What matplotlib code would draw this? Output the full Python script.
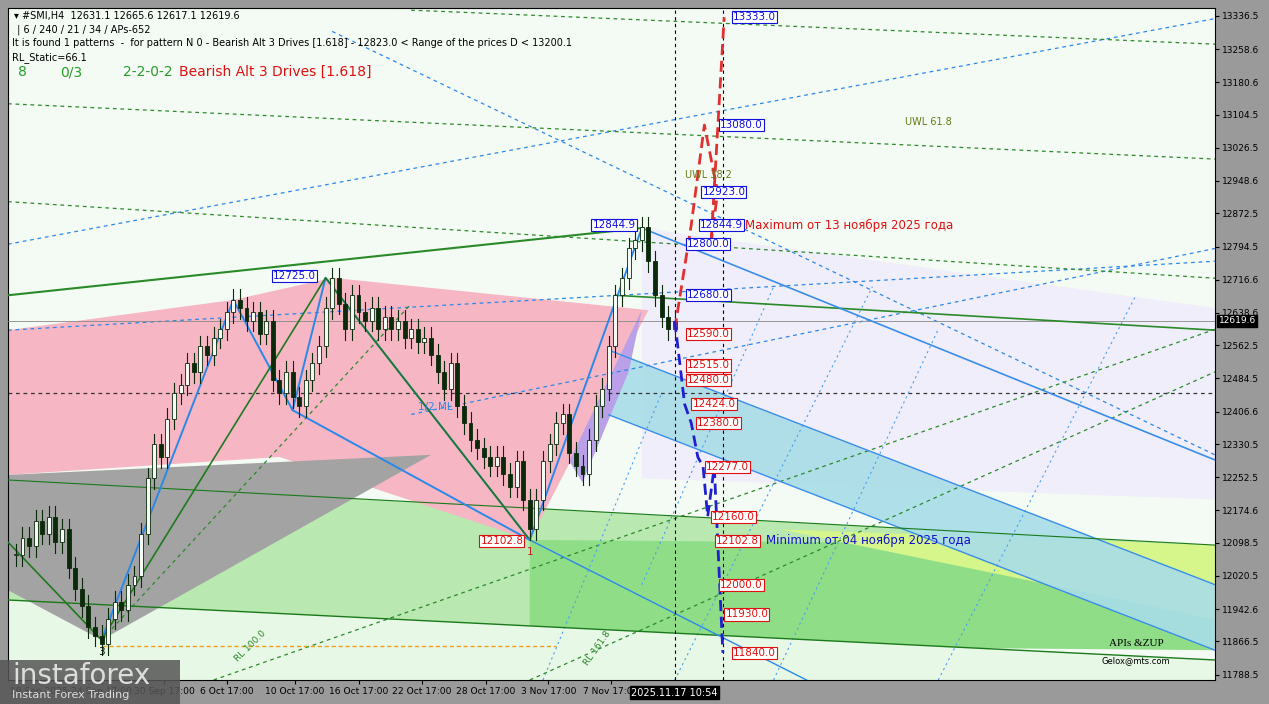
import matplotlib
matplotlib.use("Agg")
import matplotlib.pyplot as plt
from matplotlib.patches import Polygon, Rectangle
import numpy as np

closes = [12070,12110,12090,12150,12120,12160,12100,12130,12040,
          11990,11950,11900,11880,11860,
          11920,11960,11940,12000,12020,
          12120,12250,12330,12300,12390,
          12450,12470,12520,12500,12560,
          12540,12580,12600,12640,12670,
          12650,12620,12640,12590,12620,
          12480,12450,12500,12440,12420,
          12480,12520,12560,12650,12720,
          12660,12600,12680,12640,12620,
          12650,12600,12630,12600,12620,
          12580,12600,12570,12580,12540,
          12500,12460,12520,12420,12380,
          12340,12320,12300,12280,12300,
          12260,12230,12290,12200,12130,
          12200,12290,12330,12380,12400,
          12310,12280,12260,12340,12420,
          12460,12560,12680,12720,12790,
          12810,12840,12760,12680,12630,
          12600,12619.6]

yticks = [13336.5,13258.6,13180.6,13104.5,13026.5,12948.6,12872.5,12794.5,12716.6,12638.6,
          12562.5,12484.5,12406.6,12330.5,12252.5,12174.6,12098.5,12020.5,11942.6,11866.5,11788.5]
xtick_pos = [3.5, 13, 22.5, 32, 42.3, 52.1, 61.6, 71.3, 80.8, 90.3]
xtick_lab = ["19 Sep 2025", "24 Sep 17:00", "30 Sep 17:00", "6 Oct 17:00", "10 Oct 17:00",
             "16 Oct 17:00", "22 Oct 17:00", "28 Oct 17:00", "3 Nov 17:00", "7 Nov 17:00"]

blue_levels = [13333.0, 13080.0, 12923.0, 12844.9, 12800.0, 12680.0]
blue_level_x = [108.8, 106.9, 104.2, 103.8, 101.8, 101.8]
red_levels = [12590.0, 12515.0, 12480.0, 12424.0, 12380.0, 12277.0, 12160.0, 12102.8, 12000.0, 11930.0, 11840.0]
red_level_x = [101.8, 101.8, 101.8, 102.7, 103.4, 104.7, 105.7, 106.2, 106.9, 107.7, 108.8]

red_path_x = [100, 102.5, 104.5, 106.5, 105.5, 107.5]
red_path_y = [12600, 12844.9, 13080, 12923, 12800, 13333]
blue_path_x = [100, 101.5, 102.5, 103.5, 104.3, 105, 106, 107.3]
blue_path_y = [12620, 12424, 12380, 12300, 12277, 12160, 12277, 11840]

fig = plt.figure(figsize=(12.69, 7.04), dpi=100)
fig.patch.set_facecolor("#9a9a9a")
ax = fig.add_axes([8/1269, 24/704, 1207/1269, 672/704])
ax.set_facecolor("#f4fbf4")
ax.set_xlim(-1.2, 182)
ax.set_ylim(11776, 13355)

def poly(pts, color, alpha=1.0, z=1):
    ax.add_patch(Polygon(pts, closed=True, facecolor=color, edgecolor="none", alpha=alpha, zorder=z))

poly([(95, 12838), (182, 12650), (182, 12200), (95, 12250)], "#f0eefa", 1, 0.5)
poly([(-1.2, 12246), (182, 12093), (182, 11846), (-1.2, 11928)], "#b9e8b0", 1, 1)
poly([(78, 12105), (182, 12093), (182, 11846), (78, 11860)], "#90dd88", 1, 1.1)
poly([(-1.2, 11964), (182, 11823), (182, 11776), (-1.2, 11776)], "#e8f8e6", 1, 1.2)
poly([(116, 12130), (182, 12093), (182, 11917), (160, 11990)], "#d6f58a", 1, 1.3)
poly([(90, 12551), (182, 12000), (182, 11846), (90, 12399)], "#a8dde8", 0.9, 1.4)
poly([(-1.2, 12258), (-1.2, 12598), (33, 12669), (48, 12721), (96, 12645), (78, 12105), (40, 12300)], "#f6b6c4", 1, 1.5)
poly([(-1.2, 12258), (63, 12305), (13, 11870), (-1.2, 11987)], "#a3a3a3", 1, 1.6)
poly([(84, 12290), (95, 12645), (93, 12500), (86, 12240)], "#b9a0e8", 1, 1.7)

ax.plot([-1.2, 95], [12680, 12838], color="#2a8a2a", lw=1.5, zorder=3)
ax.plot([91, 182], [12680, 12598], color="#2a8a2a", lw=1.2, zorder=3)
ax.plot([95, 182], [12838, 12293], color="#3a8ee8", lw=1.2, zorder=3)
ax.plot([90, 182], [12551, 12000], color="#3a8ee8", lw=1.0, zorder=3)
ax.plot([90, 182], [12399, 11846], color="#3a8ee8", lw=1.0, zorder=3)
ax.plot([-1.2, 182], [11964, 11823], color="#1a7a1a", lw=1.0, zorder=3)
ax.plot([-1.2, 182], [12246, 12093], color="#1a7a1a", lw=0.8, zorder=3)
ax.plot([13, 33, 42, 47, 78, 95], [11870, 12669, 12410, 12721, 12105, 12838], color="#2b88e8", lw=1.4, zorder=4)
ax.plot([13, 47, 78], [11870, 12721, 12105], color="#1f7a1f", lw=1.2, zorder=4)
ax.plot([42, 78], [12410, 12105], color="#2b88e8", lw=1.4, zorder=4)
ax.plot([-1.2, 13], [12100, 11870], color="#1f7a1f", lw=1.2, zorder=4)
for (x0, y0, x1, y1, c) in [(-1.2, 12598, 182, 12760, "#2b88e8"), (60, 12400, 182, 12790, "#2b88e8"),
                            (-1.2, 12800, 182, 13330, "#2b88e8"), (48, 13300, 182, 12305, "#2b88e8"),
                            (-1.2, 12900, 182, 12720, "#2a8a2a"), (-1.2, 13130, 182, 13000, "#2a8a2a"),
                            (60, 13350, 182, 13270, "#2a8a2a"), (13, 11870, 60, 12660, "#2a8a2a"),
                            (30, 11776, 182, 12600, "#2a8a2a"), (78, 11776, 182, 12500, "#2a8a2a"),
                            (-1.2, 12450, 182, 12450, "#333333")]:
    ax.plot([x0, x1], [y0, y1], color=c, lw=0.9, ls=(0, (3, 3)), zorder=2.5)
for (x0, y0, x1, y1) in [(100, 11776, 130, 12700), (115, 11776, 140, 12600), (140, 11776, 170, 12680),
                         (80, 11776, 98, 12450), (95, 12000, 115, 12700)]:
    ax.plot([x0, x1], [y0, y1], color="#4aa0f0", lw=0.8, ls=(0, (2, 3)), zorder=2.5)
ax.plot([78, 120], [12105, 11776], color="#2b88e8", lw=1, zorder=3)
ax.plot([13, 82], [11856, 11856], color="#f0a020", lw=1, ls=(0, (3, 2)), zorder=3)
ax.axvline(100, color="black", lw=0.8, ls=(0, (3, 3)), zorder=3)
ax.axvline(107.3, color="black", lw=0.8, ls=(0, (3, 3)), zorder=3)
ax.axhline(12619.6, color="#888888", lw=0.6, zorder=2.6)

opens = [closes[0]] + closes[:-1]
for i, (o, c) in enumerate(zip(opens, closes)):
    hi = max(o, c) + 25
    lo = min(o, c) - 25
    ax.plot([i, i], [lo, hi], color="#0a2a0a", lw=0.8, zorder=5)
    ax.add_patch(Rectangle((i - 0.3, min(o, c)), 0.6, max(abs(c - o), 3),
                           facecolor="#0a2a0a" if c < o else "#f4fbf4", edgecolor="#0a2a0a", lw=0.6, zorder=6))

ax.plot(red_path_x, red_path_y, color="#e03030", lw=2, ls=(0, (4, 2)), zorder=7)
ax.plot(blue_path_x, blue_path_y, color="#2020d0", lw=2, ls=(0, (4, 2)), zorder=7)

box = dict(boxstyle="square,pad=0.1", facecolor="white", lw=0.8)
for v, xx in zip(blue_levels, blue_level_x):
    ax.text(xx, v, f"{v:.1f}", color="#1010e0", fontsize=7.5, va="center", zorder=9,
            bbox=dict(box, edgecolor="#1010e0"))
for v, xx in zip(red_levels, red_level_x):
    ax.text(xx, v, f"{v:.1f}", color="#e01010", fontsize=7.5, va="center", zorder=9,
            bbox=dict(box, edgecolor="#e01010"))
ax.text(39, 12725, "12725.0", color="#1010e0", fontsize=7.5, va="center", zorder=9, bbox=dict(box, edgecolor="#1010e0"))
ax.text(87.5, 12844.9, "12844.9", color="#1010e0", fontsize=7.5, va="center", zorder=9, bbox=dict(box, edgecolor="#1010e0"))
ax.text(70.5, 12102.8, "12102.8", color="#e01010", fontsize=7.5, va="center", zorder=9, bbox=dict(box, edgecolor="#e01010"))
ax.text(110.6, 12844.9, "Maximum от 13 ноября 2025 года", color="#e01010", fontsize=8.5, va="center", zorder=9)
ax.text(113.8, 12102.8, "Minimum от 04 ноября 2025 года", color="#1010d0", fontsize=8.5, va="center", zorder=9)
ax.text(135, 13080, "UWL 61.8", color="#6a7a10", fontsize=7, zorder=9)
ax.text(101.5, 12955, "UWL 38.2", color="#6a7a10", fontsize=7, zorder=9)
ax.text(61, 12410, "1/2 ML", color="#2b88e8", fontsize=7.5, zorder=9)
ax.text(13, 11835, "3", fontsize=7.5, ha="center", zorder=9)
ax.text(78, 12070, "1", fontsize=7.5, ha="center", color="#c02020", zorder=9)
ax.text(33, 11820, "RL 100.0", color="#2a8a2a", fontsize=6.5, rotation=45, zorder=9)
ax.text(86, 11810, "RL 161.8", color="#2a8a2a", fontsize=6.5, rotation=55, zorder=9)
ax.text(170, 11855, "APIs &ZUP", fontsize=8, family="Liberation Serif", zorder=9, ha="center")
ax.text(170, 11815, "Gelox@mts.com", fontsize=6, zorder=9, ha="center")

ax.text(0.005, 0.995, "\u25BE #SMI,H4  12631.1 12665.6 12617.1 12619.6", transform=ax.transAxes, fontsize=7, va="top", zorder=10)
ax.text(0.005, 0.975, " | 6 / 240 / 21 / 34 / APs-652", transform=ax.transAxes, fontsize=7, va="top", zorder=10)
ax.text(0.003, 0.955, "It is found 1 patterns  -  for pattern N 0 - Bearish Alt 3 Drives [1.618] - 12823.0 < Range of the prices D < 13200.1",
        transform=ax.transAxes, fontsize=7, va="top", zorder=10)
ax.text(0.003, 0.935, "RL_Static=66.1", transform=ax.transAxes, fontsize=7, va="top", zorder=10)
for xx, t, c in [(0.008, "8", "#2a9a2a"), (0.043, "0/3", "#2a9a2a"), (0.095, "2-2-0-2", "#2a9a2a"),
                 (0.142, "Bearish Alt 3 Drives [1.618]", "#e01010")]:
    ax.text(xx, 0.915, t, transform=ax.transAxes, fontsize=10, va="top", color=c, zorder=10)

ax.yaxis.tick_right()
ax.set_yticks(yticks)
ax.set_yticklabels([f"{v:.1f}" for v in yticks], fontsize=6.5)
ax.set_xticks(xtick_pos)
ax.set_xticklabels(xtick_lab, fontsize=6.6)
ax.tick_params(length=3, pad=2)
ax.text(1.003, 12619.6, "12619.6", transform=ax.get_yaxis_transform(), fontsize=6.5, color="white", va="center",
        bbox=dict(boxstyle="square,pad=0.15", facecolor="black"), zorder=11, clip_on=False)
ax.text(100, 11758, "2025.11.17 10:54", fontsize=7, color="white", va="top", ha="center",
        bbox=dict(boxstyle="square,pad=0.15", facecolor="black"), zorder=11, clip_on=False)

fig.patches.append(Rectangle((0, 0), 180/1269, 44/704, transform=fig.transFigure, facecolor="#555555", alpha=0.85, zorder=20))
fig.text(12/1269, 20/704, "instaforex", fontsize=20, color="#dddddd", zorder=21)
fig.text(12/1269, 6/704, "Instant Forex Trading", fontsize=8, color="#dddddd", zorder=21)

fig.savefig("out.png", dpi=100, facecolor=fig.get_facecolor())
